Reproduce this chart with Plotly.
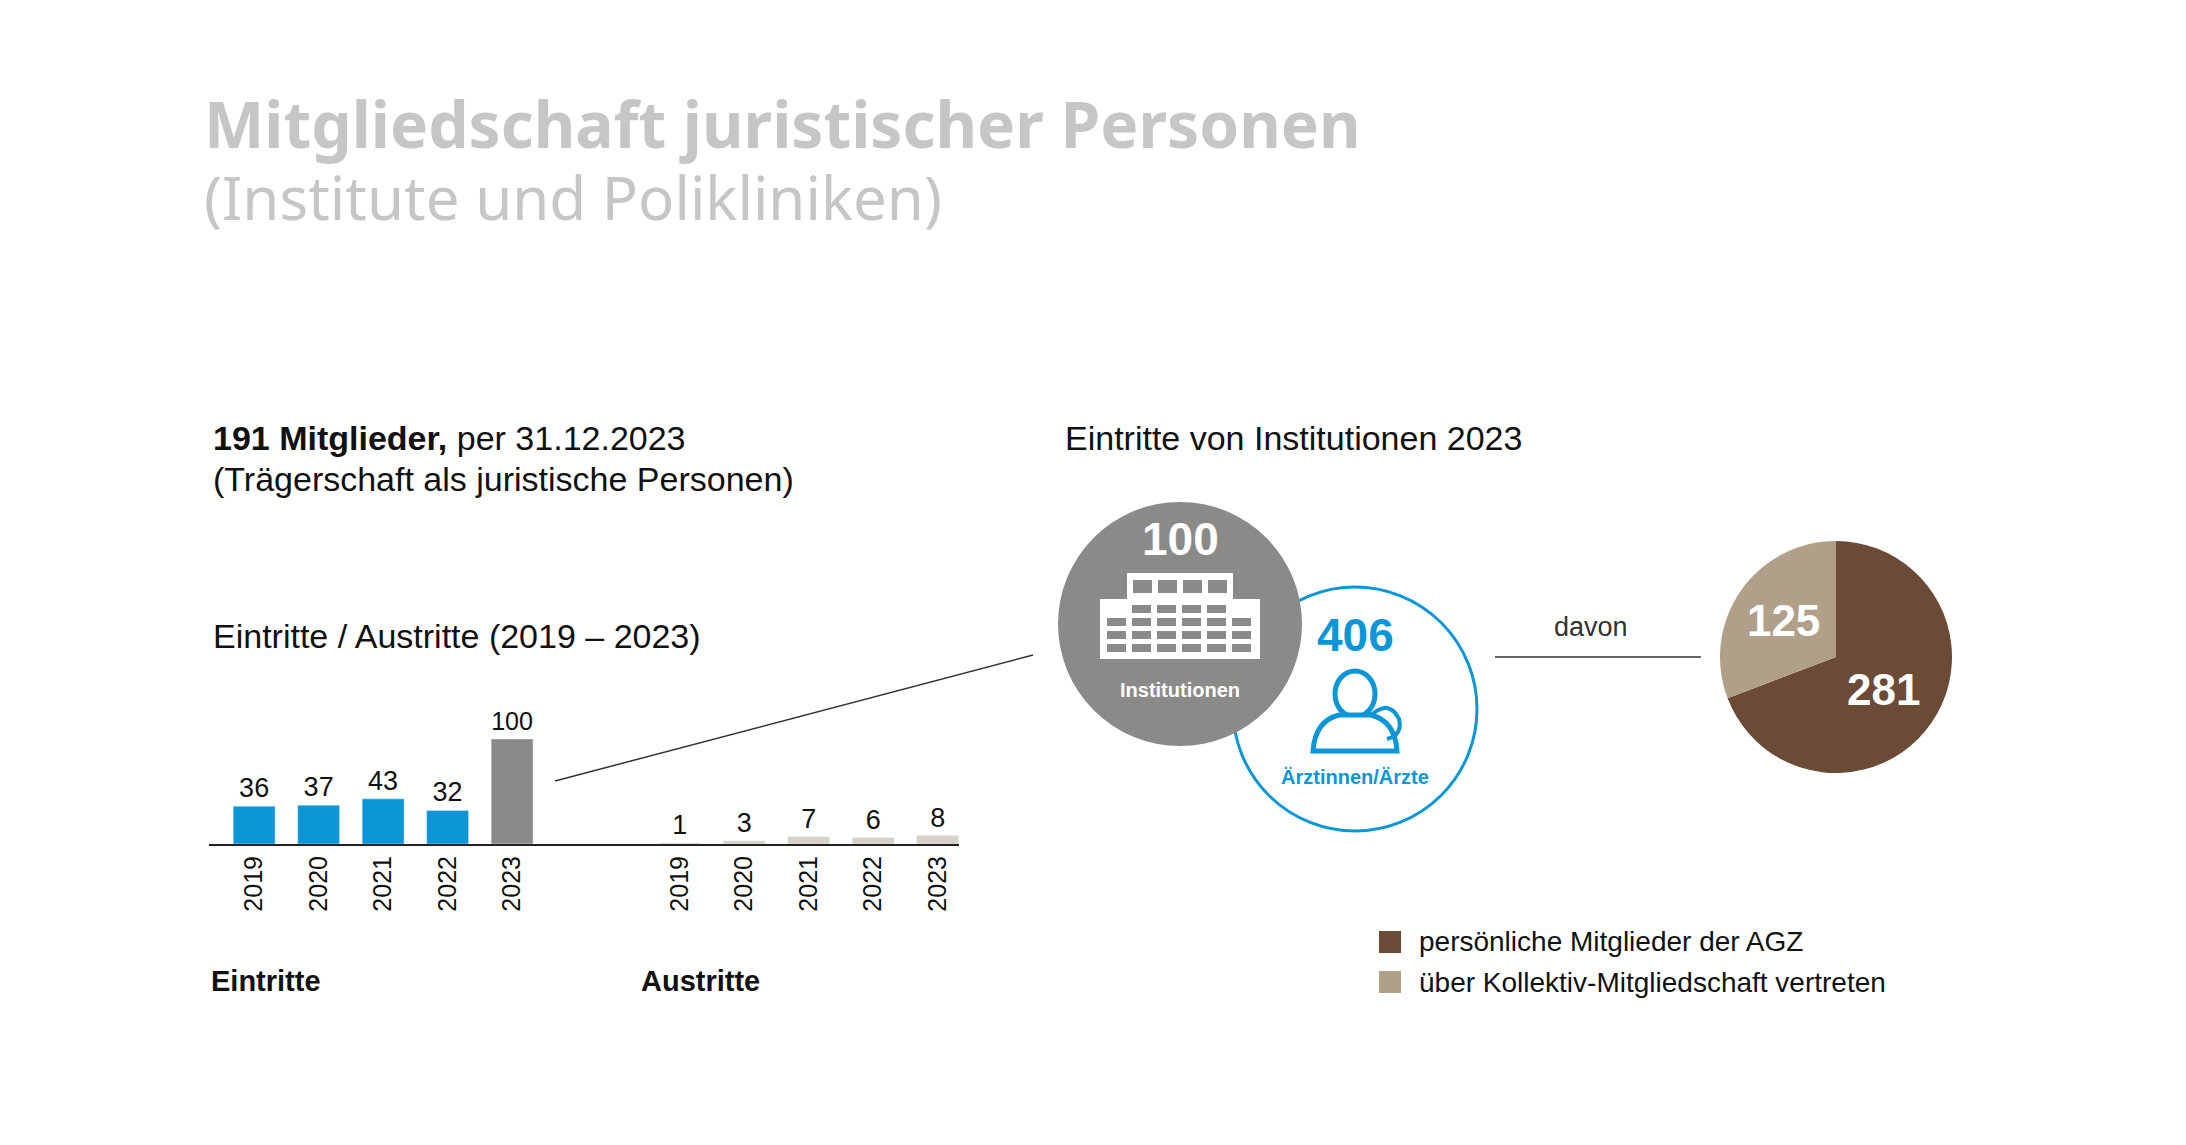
import plotly.graph_objects as go

W, H = 2186, 1145

years = ["2019", "2020", "2021", "2022", "2023"]
eintritte = [36, 37, 43, 32, 100]
austritte = [1, 3, 7, 6, 8]
pie_labels = ["persönliche Mitglieder der AGZ", "über Kollektiv-Mitgliedschaft vertreten"]
pie_values = [281, 125]
institutionen = 100
aerzte = 406

BLUE = "#0a96d7"
GRAY = "#8a8a88"
BEIGE_LIGHT = "#d8d1c6"
BROWN = "#6b4a36"
BEIGE = "#b0a08a"
FONT = "Liberation Sans"
OFF = 9  # page body margin compensation


def px(x):
    return (x - OFF) / W


def py(y):
    return 1 - (y - OFF) / H


fig = go.Figure()

# bar chart: entries at 0..4, exits shifted right
x_in = [i for i in range(len(years))]
x_out = [i + 6.6 for i in range(len(years))]
fig.add_trace(go.Bar(
    x=x_in, y=eintritte, width=0.65,
    marker_color=[BLUE] * 4 + [GRAY],
    text=eintritte, textposition="outside", cliponaxis=False,
    textfont=dict(size=27, color="#111", family=FONT),
))
fig.add_trace(go.Bar(
    x=x_out, y=austritte, width=0.65,
    marker_color=BEIGE_LIGHT,
    text=austritte, textposition="outside", cliponaxis=False,
    textfont=dict(size=27, color="#111", family=FONT),
))

fig.add_trace(go.Pie(
    values=pie_values, labels=pie_labels, sort=False, direction="clockwise",
    rotation=0, marker=dict(colors=[BROWN, BEIGE]),
    texttemplate="<b>%{value}</b>", textfont=dict(size=44, color="white", family=FONT),
    insidetextorientation="horizontal",
    domain=dict(x=[px(1721), px(1953)], y=[py(774), py(542)]),
    showlegend=False,
))

fig.update_layout(
    width=W, height=H, margin=dict(l=0, r=0, t=0, b=0),
    paper_bgcolor="white", plot_bgcolor="white", showlegend=False,
    xaxis=dict(domain=[px(210), px(960)], range=[-0.7, 10.93],
               tickvals=x_in + x_out, ticktext=years + years, tickangle=-90,
               tickfont=dict(size=25, color="#111", family=FONT),
               showgrid=False, showline=True, linecolor="#222", linewidth=2,
               ticks="", zeroline=False),
    yaxis=dict(domain=[py(845), py(740)], range=[0, 100], visible=False),
)

shapes = []
# blue ring, then gray circle over it
shapes.append(dict(type="circle", xref="paper", yref="paper",
                   x0=px(1356 - 122), x1=px(1356 + 122), y0=py(710 + 122), y1=py(710 - 122),
                   line=dict(color=BLUE, width=3), fillcolor="white"))
shapes.append(dict(type="circle", xref="paper", yref="paper",
                   x0=px(1181 - 122), x1=px(1181 + 122), y0=py(625 + 122), y1=py(625 - 122),
                   line=dict(color=GRAY, width=0), fillcolor=GRAY))
# building icon
for (x0, y0, x1, y1) in [(1101, 600, 1261, 660), (1128, 574, 1234, 602)]:
    shapes.append(dict(type="rect", xref="paper", yref="paper", x0=px(x0), x1=px(x1),
                       y0=py(y1), y1=py(y0), fillcolor="white", line_width=0))
for r in range(4):
    for c in range(6):
        wx = 1108 + c * 25
        wy = 606 + r * 13
        if r == 0 and (c == 0 or c == 5):
            continue
        shapes.append(dict(type="rect", xref="paper", yref="paper", x0=px(wx), x1=px(wx + 19),
                           y0=py(wy + 8), y1=py(wy), fillcolor=GRAY, line_width=0))
for c in range(4):
    wx = 1134 + c * 25
    shapes.append(dict(type="rect", xref="paper", yref="paper", x0=px(wx), x1=px(wx + 19),
                       y0=py(594), y1=py(581), fillcolor=GRAY, line_width=0))
# doctor icon
shapes.append(dict(type="circle", xref="paper", yref="paper", x0=px(1336), x1=px(1376),
                   y0=py(718), y1=py(672), line=dict(color=BLUE, width=5), fillcolor="white"))
shapes.append(dict(type="path", xref="paper", yref="paper",
                   path=f"M {px(1314)},{py(752)} Q {px(1316)},{py(722)} {px(1340)},{py(716)} "
                        f"L {px(1372)},{py(716)} Q {px(1396)},{py(722)} {px(1398)},{py(752)} Z",
                   line=dict(color=BLUE, width=5), fillcolor="white"))
shapes.append(dict(type="path", xref="paper", yref="paper",
                   path=f"M {px(1372)},{py(716)} Q {px(1390)},{py(700)} {px(1400)},{py(720)} "
                        f"Q {px(1404)},{py(736)} {px(1388)},{py(740)}",
                   line=dict(color=BLUE, width=4)))
# connector lines
shapes.append(dict(type="line", xref="paper", yref="paper", x0=px(556), y0=py(782),
                   x1=px(1034), y1=py(656), line=dict(color="#333", width=1.5)))
shapes.append(dict(type="line", xref="paper", yref="paper", x0=px(1496), y0=py(658),
                   x1=px(1702), y1=py(658), line=dict(color="#333", width=1.5)))
# legend squares
for yy, col in [(943, BROWN), (983, BEIGE)]:
    shapes.append(dict(type="rect", xref="paper", yref="paper", x0=px(1380), x1=px(1402),
                       y0=py(yy + 11), y1=py(yy - 11), fillcolor=col, line_width=0))
fig.update_layout(shapes=shapes)


def txt(x, y, s, size, color="#111", anchor="left", bold=False, family=FONT):
    if bold:
        s = f"<b>{s}</b>"
    fig.add_annotation(x=px(x), y=py(y), xref="paper", yref="paper", text=s,
                       showarrow=False, xanchor=anchor, yanchor="middle",
                       font=dict(size=size, color=color, family=family))


txt(203, 124, "Mitgliedschaft juristischer Personen", 64, "#c6c6c6", bold=True, family="Noto Sans")
txt(203, 198, "(Institute und Polikliniken)", 60, "#c6c6c6", family="Noto Sans")
txt(212, 439, "<b>191 Mitglieder,</b> per 31.12.2023", 34)
txt(212, 480, "(Trägerschaft als juristische Personen)", 34)
txt(212, 637, "Eintritte / Austritte (2019 – 2023)", 34)
txt(210, 982, "Eintritte", 29, bold=True)
txt(640, 982, "Austritte", 29, bold=True)
txt(1064, 439, "Eintritte von Institutionen 2023", 34)
txt(1181, 540, str(institutionen), 46, "white", "center", bold=True)
txt(1181, 691, "Institutionen", 20, "white", "center", bold=True)
txt(1356, 636, str(aerzte), 46, BLUE, "center", bold=True)
txt(1356, 778, "Ärztinnen/Ärzte", 20, BLUE, "center", bold=True)
txt(1592, 628, "davon", 27, "#333", "center")
txt(1418, 943, pie_labels[0], 28)
txt(1418, 983, pie_labels[1], 28)

fig.write_html("out.html")
